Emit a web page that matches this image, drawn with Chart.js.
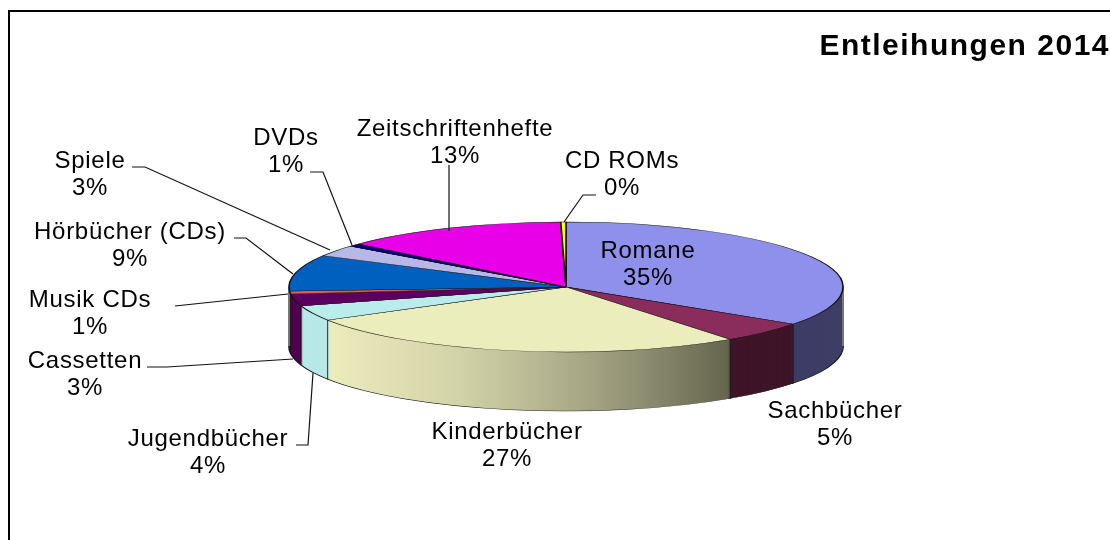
<!DOCTYPE html>
<html><head><meta charset="utf-8">
<style>html,body{margin:0;padding:0;background:#fff;overflow:hidden}canvas{display:block;filter:blur(.35px)}</style>
<script src="https://cdn.jsdelivr.net/npm/chart.js@4/dist/chart.umd.min.js"></script>
</head><body>
<canvas id="c" width="1110" height="540"></canvas>
<script>
const categories = ["Romane","Sachbücher","Kinderbücher","Jugendbücher","Cassetten","Musik CDs","Hörbücher (CDs)","Spiele","DVDs","Zeitschriftenhefte","CD ROMs"];
const shares = [34.7,5.2,26.6,3.8,3.0,0.7,9.0,2.8,0.7,13.2,0.3];
const topColors = ["#8f8fec","#8a2c5c","#ecedbd","#bbecec","#5c0060","#e06050","#0060c0","#b8b8e8","#000080","#e800e8","#ffff00"];
const sideColors = ["#3d3d66","#3f1528",null,"#b8e8e8","#4f0050","#70302a","#003060","#5c5c74","#000040","#740074","#808000"];
const kinderSideStops = ["#ecedbd","#d2d2a8","#a3a383","#66664f"];

const K = 65/277, DEPTH = 59, FONT = "24px 'Liberation Sans'";
const textAnchors = [[648,257],[835,417],[507,438],[208,445],[85,367],[90,306],[130,238],[90,167],[286,144],[455,135],[622,167]];
const leaders = [null,null,null,
  [[296,445],[308,445],[313,373]],
  [[147,367],[167,367],[293,359]],
  [[175,306],[288,294]],
  [[234,238],[246,238],[293,274]],
  [[132,167],[145,167],[330,250]],
  [[310,172],[323,172],[352,245]],
  [[449,165],[449,231]],
  [[596,195],[583,195],[564,222]]];

const pie3d = {
  id:'pie3d',
  beforeDraw(chart){
    const c=chart.ctx;
    c.save();
    c.fillStyle='#fff';c.fillRect(0,0,1110,540);
    c.fillStyle='#000';c.fillRect(8,10,1102,2);c.fillRect(8,10,2,530);
    c.restore();
    c.letterSpacing='1.5px';
  },
  beforeDatasetDraw(chart,args){
    const c=chart.ctx, arcs=chart.getDatasetMeta(args.index).data, a0=arcs[0];
    const cx=a0.x, cy=a0.y, r=a0.outerRadius;
    const grad=c.createLinearGradient(327,0,728,0);
    kinderSideStops.forEach((s,i)=>grad.addColorStop(i/(kinderSideStops.length-1),s));
    const drawLayer=(d,border)=>{
      c.save();
      c.translate(cx,cy+d);c.scale(1,K);c.translate(-cx,-cy);
      arcs.forEach((arc,i)=>{
        const o=arc.options, fill=sideColors[i]||grad;
        arc.options=Object.assign({},o,{backgroundColor:fill,borderColor:border?'#1a1a1a':fill,borderWidth:border?2:0.8});
        arc.draw(c);
        arc.options=o;
      });
      c.restore();
    };
    drawLayer(DEPTH,true);
    for(let d=DEPTH-1;d>=1;d--) drawLayer(d,false);
    c.save();
    c.lineWidth=1.2;
    arcs.forEach(arc=>{
      const a=arc.endAngle, s=Math.sin(a);
      if(s>0){
        const x=cx+r*Math.cos(a), y=cy+r*K*s;
        c.strokeStyle='rgba(20,20,20,.75)';
        c.beginPath();c.moveTo(x,y);c.lineTo(x,y+DEPTH);c.stroke();
      }
    });
    c.strokeStyle='#777';c.lineWidth=2;
    [cx-r,cx+r].forEach(x=>{c.beginPath();c.moveTo(x,cy);c.lineTo(x,cy+DEPTH);c.stroke();});
    c.restore();
    c.save();
    c.translate(cx,cy);c.scale(1,K);c.translate(-cx,-cy);
    return true;
  },
  afterDatasetDraw(chart){ chart.ctx.restore(); },
  afterDatasetsDraw(chart){
    const c=chart.ctx;
    c.save();
    c.strokeStyle='#111';c.lineWidth=1.2;
    leaders.forEach(l=>{
      if(!l)return;
      c.beginPath();l.forEach((p,i)=>i?c.lineTo(p[0],p[1]):c.moveTo(p[0],p[1]));c.stroke();
    });
    c.fillStyle='#000';c.font=FONT;c.textAlign='center';c.textBaseline='alphabetic';
    c.letterSpacing='0.7px';
    categories.forEach((n,i)=>{
      const [x,y]=textAnchors[i];
      c.fillText(n,x,y+1);
      c.fillText(Math.round(shares[i])+'%',x,y+28);
    });
    c.restore();
  }
};

new Chart(document.getElementById('c'),{
  type:'pie',
  data:{labels:categories,datasets:[{data:shares,backgroundColor:topColors,borderColor:'#111',borderWidth:1.6,clip:false}]},
  options:{
    responsive:false,animation:false,devicePixelRatio:1,
    radius:277,
    layout:{padding:{left:22,right:0,top:0,bottom:31}},
    plugins:{
      legend:{display:false},tooltip:{enabled:false},
      title:{display:true,text:'Entleihungen 2014',align:'end',color:'#000',
        font:{family:"'Liberation Sans'",size:30,weight:'bold',lineHeight:1.2},
        padding:{top:29,bottom:0}}
    }
  },
  plugins:[pie3d]
});
</script>
</body></html>
